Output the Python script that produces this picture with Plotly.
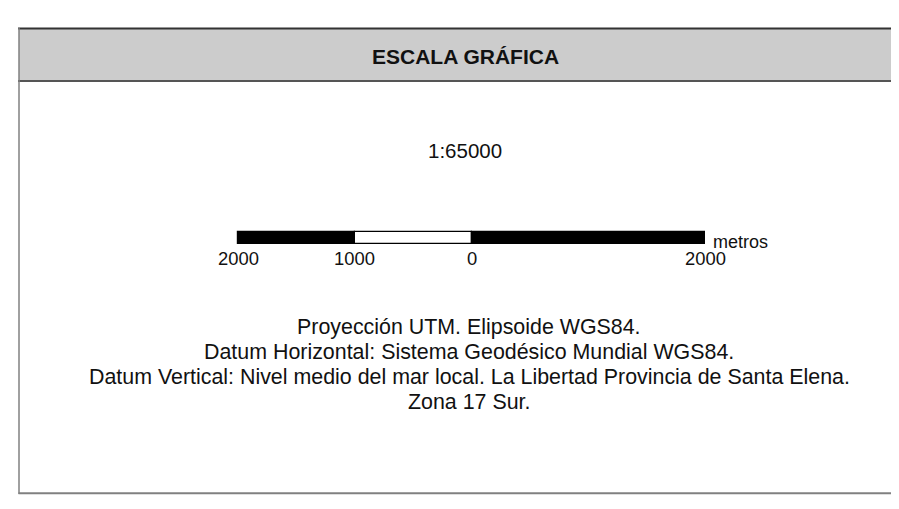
import plotly.graph_objects as go

WIN_W, WIN_H = 899, 509
OFF = 8  # default page body margin offsets the figure by 8 px
W, H = WIN_W - OFF, 487

title_text = "ESCALA GRÁFICA"
scale_text = "1:65000"
unit_text = "metros"
seg_start = [-2000, -1000, 0]
seg_length = [1000, 1000, 2000]
seg_colors = ["#000000", "#ffffff", "#000000"]
tick_vals = [-2000, -1000, 0, 2000]
tick_text = ["2000", "1000", "0", "2000"]
notes = [
    "Proyección UTM. Elipsoide WGS84.",
    "Datum Horizontal: Sistema Geodésico Mundial WGS84.",
    "Datum Vertical: Nivel medio del mar local. La Libertad Provincia de Santa Elena.",
    "Zona 17 Sur.",
]


def px(xw):
    """window pixel -> paper fraction"""
    return (xw - OFF) / W


# pixel mapping of the scale axis: -2000 m -> 238 px, 2000 m -> 705 px (window px)
px_left, px_right = 238 - OFF, 705 - OFF
ppm = (px_right - px_left) / 4000.0
x_range = [-2000 - px_left / ppm, 2000 + (W - px_right) / ppm]

FONT = "Liberation Sans, Arial, Helvetica, sans-serif"
COL = "#111111"

fig = go.Figure()
fig.add_trace(go.Bar(
    orientation="h",
    y=[238] * len(seg_start),
    x=seg_length,
    base=seg_start,
    width=12,
    marker=dict(color=seg_colors, line=dict(color="#000000", width=1.2)),
    hoverinfo="skip",
    showlegend=False,
))

ann = []
ann.append(dict(x=px(465), y=56, xref="paper", yref="y", text="<b>" + title_text + "</b>",
                showarrow=False, font=dict(family=FONT, size=21, color=COL),
                xanchor="center", yanchor="middle"))
ann.append(dict(x=px(465), y=150, xref="paper", yref="y", text=scale_text,
                showarrow=False, font=dict(family=FONT, size=20.5, color=COL),
                xanchor="center", yanchor="middle"))
for v, t in zip(tick_vals, tick_text):
    ann.append(dict(x=v, y=258, xref="x", yref="y", text=t, showarrow=False,
                    font=dict(family=FONT, size=18.4, color=COL),
                    xanchor="center", yanchor="middle"))
ann.append(dict(x=2000, y=242, xref="x", yref="y", text=unit_text, showarrow=False,
                font=dict(family=FONT, size=18, color=COL),
                xanchor="left", yanchor="middle", xshift=6))
note_y = [327, 352, 377, 402]
for yy, t in zip(note_y, notes):
    ann.append(dict(x=px(469), y=yy, xref="paper", yref="y", text=t,
                    showarrow=False, align="center",
                    font=dict(family=FONT, size=21.4, color=COL),
                    xanchor="center", yanchor="middle"))

shapes = [
    dict(type="rect", xref="paper", yref="y", x0=px(19), x1=1.05, y0=28.5, y1=81,
         fillcolor="#cccccc", line=dict(width=0), layer="below"),
    dict(type="line", xref="paper", yref="y", x0=px(18), x1=1.05, y0=28.5, y1=28.5,
         line=dict(color="#333333", width=2)),
    dict(type="line", xref="paper", yref="y", x0=px(18), x1=1.05, y0=81, y1=81,
         line=dict(color="#555555", width=2)),
    dict(type="line", xref="paper", yref="y", x0=px(19), x1=px(19), y0=28, y1=494,
         line=dict(color="#808080", width=1.5)),
    dict(type="line", xref="paper", yref="y", x0=px(18.5), x1=1.05, y0=493.3, y1=493.3,
         line=dict(color="#808080", width=2)),
]

fig.update_layout(
    width=W, height=H,
    margin=dict(l=0, r=0, t=0, b=0),
    paper_bgcolor="#ffffff", plot_bgcolor="#ffffff",
    xaxis=dict(range=x_range, visible=False, fixedrange=True),
    yaxis=dict(range=[H + OFF, OFF], visible=False, fixedrange=True),
    annotations=ann, shapes=shapes,
    bargap=0,
)

fig.write_html("out.html")
